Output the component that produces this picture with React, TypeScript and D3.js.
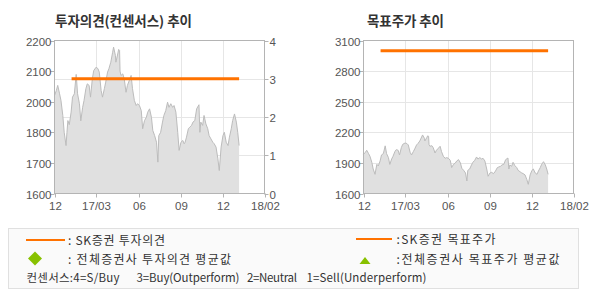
import React from "react";
import * as d3 from "d3";

// ---- data ----
const priceDates = [
  "2016-12-01","2016-12-05","2016-12-08","2016-12-12","2016-12-15","2016-12-19","2016-12-22","2016-12-26","2016-12-28","2016-12-30",
  "2017-01-02","2017-01-06","2017-01-09","2017-01-13","2017-01-17","2017-01-20","2017-01-24","2017-01-27","2017-01-31","2017-02-03",
  "2017-02-07","2017-02-10","2017-02-14","2017-02-17","2017-02-21","2017-02-24","2017-03-01","2017-03-05","2017-03-08","2017-03-12",
  "2017-03-15","2017-03-19","2017-03-22","2017-03-26","2017-03-29","2017-04-02","2017-04-06","2017-04-08","2017-04-12","2017-04-13",
  "2017-04-17","2017-04-19","2017-04-21","2017-04-22","2017-04-24","2017-04-28","2017-05-01","2017-05-05","2017-05-08","2017-05-12",
  "2017-05-16","2017-05-19","2017-05-23","2017-05-27","2017-05-30","2017-06-03","2017-06-07","2017-06-10","2017-06-14","2017-06-18",
  "2017-06-21","2017-06-25","2017-06-29","2017-07-02","2017-07-06","2017-07-10","2017-07-13","2017-07-15","2017-07-19","2017-07-23",
  "2017-07-26","2017-07-30","2017-08-03","2017-08-06","2017-08-10","2017-08-14","2017-08-17","2017-08-21","2017-08-25","2017-08-28",
  "2017-09-01","2017-09-05","2017-09-08","2017-09-10","2017-09-13","2017-09-17","2017-09-20","2017-09-24","2017-09-27","2017-10-01",
  "2017-10-05","2017-10-10","2017-10-12","2017-10-14","2017-10-18","2017-10-21","2017-10-25","2017-10-29","2017-11-01","2017-11-05",
  "2017-11-09","2017-11-12","2017-11-16","2017-11-20","2017-11-23","2017-11-27","2017-12-01","2017-12-04","2017-12-08","2017-12-12",
  "2017-12-15","2017-12-19","2017-12-22","2017-12-26","2017-12-30","2018-01-02","2018-01-05",
];
const priceValues = [
  1984,2004,2024,1991,1965,1906,1840,1788,1840,1886,
  1870,1919,1978,1991,2067,1991,1952,1885,1938,1965,
  2011,2030,2024,1978,2050,2082,2095,2090,2076,2004,
  1978,2011,2037,2076,2090,2115,2154,2174,2141,2115,
  2147,2165,2161,2080,2063,2069,2050,1997,2024,2043,
  2063,2011,1965,1945,1952,1945,1925,1854,1886,1899,
  1919,1932,1899,1847,1827,1801,1723,1827,1840,1880,
  1906,1925,1958,1938,1952,1938,1945,1919,1840,1769,
  1801,1808,1795,1801,1821,1854,1860,1867,1880,1886,
  1932,1948,1840,1880,1867,1906,1873,1854,1827,1814,
  1801,1795,1782,1736,1690,1782,1827,1840,1801,1788,
  1821,1854,1886,1912,1880,1840,1788,
];
const skDates = ["2017-01-07", "2018-01-05"];
const skRating = [3, 3];
const skTarget = [3000, 3000];

const xDomain = ["2016-12-01", "2018-03-01"];
const xTickDates = ["2016-12-01", "2017-03-01", "2017-06-01", "2017-09-01", "2017-12-01", "2018-03-01"];
const xTickLabels = ["12", "17/03", "06", "09", "12", "18/02"];

const leftPriceTicks = [1600, 1720, 1840, 1960, 2080, 2200];
const leftPriceLabels = ["1600", "1700", "1800", "2000", "2100", "2200"];
const ratingTicks = [0, 1, 2, 3, 4];
const targetTicks = [1600, 1900, 2200, 2500, 2800, 3100];

const parse = d3.timeParse("%Y-%m-%d");
const prices = priceDates.map((d, i) => ({ date: parse(d) as Date, v: priceValues[i] }));

const ORANGE = "#ff7200";
const GREEN = "#88c100";
const AXIS = "#b4b4b4";
const GRID = "#e6e6e6";
const TICKTXT = "#555";
const FONT = "'Liberation Sans', Arial, sans-serif";
const KFONT = "'Noto Sans CJK KR', 'Liberation Sans', sans-serif";

type PanelProps = {
  x0: number;
  title: string;
  titleX: number;
  titleLen: number;
  priceDomain: [number, number];
  priceTicks: number[];
  priceLabels: string[];
  rightTicks?: number[];
  hGrid: number[];
  hGridScale: "price" | "rating";
  lineValues: number[];
  lineScale: "price" | "rating";
};

const Panel: React.FC<PanelProps> = (p) => {
  const W = 210;
  const top = 40.5;
  const bot = 193.5;
  const x = d3.scaleTime().domain(xDomain.map((d) => parse(d) as Date)).range([p.x0, p.x0 + W]);
  const yP = d3.scaleLinear().domain(p.priceDomain).range([bot, top]);
  const yR = d3.scaleLinear().domain([0, 4]).range([bot, top]);
  const area = d3
    .area<{ date: Date; v: number }>()
    .x((d) => x(d.date))
    .y0(bot)
    .y1((d) => yP(d.v));
  const line = d3
    .line<{ date: Date; v: number }>()
    .x((d) => x(d.date))
    .y((d) => yP(d.v));
  const gy = p.hGridScale === "price" ? yP : yR;
  const ly = p.lineScale === "price" ? yP : yR;
  const skPts = skDates.map((d, i) => ({ x: x(parse(d) as Date), y: ly(p.lineValues[i]) }));
  const innerTicks = xTickDates.slice(1, -1);
  return (
    <g>
      <text
        x={p.titleX}
        y={26}
        fontFamily={KFONT}
        fontWeight="bold"
        fontSize={13.5}
        textLength={p.titleLen}
        lengthAdjust="spacing"
        fill="#333"
      >
        {p.title}
      </text>
      {/* grid */}
      {p.hGrid.map((t) => (
        <line key={"h" + t} x1={p.x0} x2={p.x0 + W} y1={Math.round(gy(t)) + 0.5} y2={Math.round(gy(t)) + 0.5} stroke={GRID} />
      ))}
      {innerTicks.map((d) => {
        const xx = Math.round(x(parse(d) as Date)) + 0.5;
        return <line key={"v" + d} x1={xx} x2={xx} y1={top} y2={bot} stroke={GRID} />;
      })}
      {/* area */}
      <path d={area(prices) || ""} fill="#e0e0e0" />
      <path d={line(prices) || ""} fill="none" stroke="#bcbcbc" strokeWidth={1} />
      {/* SK line */}
      <line x1={skPts[0].x} x2={skPts[1].x} y1={skPts[0].y} y2={skPts[1].y} stroke={ORANGE} strokeWidth={3} />
      {/* frame */}
      <rect x={p.x0} y={top} width={W} height={bot - top} fill="none" stroke={AXIS} />
      {/* left ticks */}
      {p.priceTicks.map((t, i) => {
        const yy = Math.round(yP(t)) + 0.5;
        return (
          <g key={"l" + t}>
            <line x1={p.x0 - 4} x2={p.x0} y1={yy} y2={yy} stroke={AXIS} />
            <text x={p.x0 - 3} y={yy + 4} textAnchor="end" fontFamily={FONT} fontSize={11.5} fill={TICKTXT}>
              {p.priceLabels[i]}
            </text>
          </g>
        );
      })}
      {/* right ticks */}
      {p.rightTicks &&
        p.rightTicks.map((t) => {
          const yy = Math.round(yR(t)) + 0.5;
          return (
            <g key={"r" + t}>
              <line x1={p.x0 + W} x2={p.x0 + W + 4} y1={yy} y2={yy} stroke={AXIS} />
              <text x={p.x0 + W + 5} y={yy + 4} fontFamily={FONT} fontSize={11.5} fill={TICKTXT}>
                {t}
              </text>
            </g>
          );
        })}
      {/* bottom ticks */}
      {xTickDates.map((d, i) => {
        const xx = Math.round(x(parse(d) as Date)) + 0.5;
        return (
          <g key={"b" + d}>
            <line x1={xx} x2={xx} y1={bot} y2={bot + 4} stroke={AXIS} />
            <text x={xx} y={210} textAnchor="middle" fontFamily={FONT} fontSize={11.5} fill={TICKTXT}>
              {xTickLabels[i]}
            </text>
          </g>
        );
      })}
    </g>
  );
};

const LT = { fontFamily: KFONT, fontSize: 12, fill: "#333", lengthAdjust: "spacing" as const };
const LS = { fontFamily: KFONT, fontSize: 11.5, fill: "#333", lengthAdjust: "spacing" as const };

export default function App() {
  return (
    <svg width={590} height={300} style={{ position: "absolute", left: 0, top: 0, background: "#fff" }}>
      <rect x={0} y={0} width={590} height={300} fill="#fff" />
      <Panel
        x0={54.5}
        title="투자의견(컨센서스) 추이"
        titleX={55}
        titleLen={137}
        priceDomain={[1600, 2200]}
        priceTicks={leftPriceTicks}
        priceLabels={leftPriceLabels}
        rightTicks={ratingTicks}
        hGrid={[1, 2, 3]}
        hGridScale="rating"
        lineValues={skRating}
        lineScale="rating"
      />
      <Panel
        x0={363.5}
        title="목표주가 추이"
        titleX={367}
        titleLen={77}
        priceDomain={[1600, 3100]}
        priceTicks={targetTicks}
        priceLabels={targetTicks.map(String)}
        hGrid={targetTicks.slice(1, -1)}
        hGridScale="price"
        lineValues={skTarget}
        lineScale="price"
      />
      {/* legend */}
      <rect x={8.5} y={228.5} width={570} height={60} fill="#fafafa" stroke="#e0e0e0" />
      <line x1={26} x2={65} y1={240} y2={240} stroke={ORANGE} strokeWidth={2} />
      <text x={68} y={245} textLength={97} {...LT}>: SK증권 투자의견</text>
      <path d="M35,251.5 L42,258.5 L35,265.5 L28,258.5 Z" fill={GREEN} />
      <text x={68} y={263.5} textLength={163} {...LT}>: 전체증권사 투자의견 평균값</text>
      <text x={26.5} y={282} textLength={93} {...LS}>컨센서스:4=S/Buy</text>
      <text x={136.5} y={282} textLength={103} {...LS}>3=Buy(Outperform)</text>
      <text x={247} y={282} textLength={50} {...LS}>2=Neutral</text>
      <text x={306.5} y={282} textLength={120} {...LS}>1=Sell(Underperform)</text>
      <line x1={356} x2={392} y1={239} y2={239} stroke={ORANGE} strokeWidth={2} />
      <text x={396.5} y={244} textLength={99} {...LT}>:SK증권 목표주가</text>
      <path d="M359.5,264 L370.5,264 L365,257 Z" fill={GREEN} />
      <text x={396.5} y={264} textLength={163} {...LT}>:전체증권사 목표주가 평균값</text>
    </svg>
  );
}
